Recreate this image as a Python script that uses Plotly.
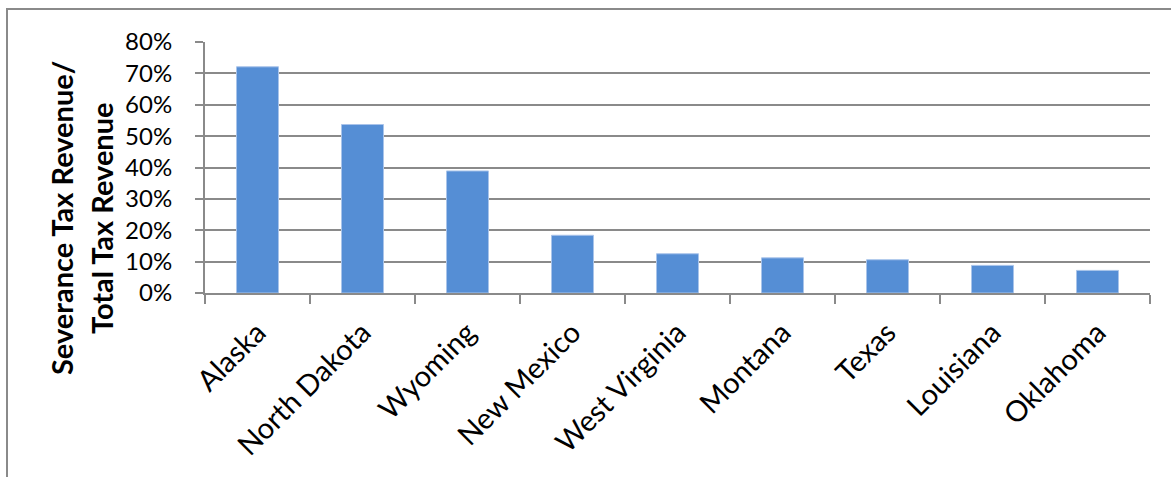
import plotly.graph_objects as go

# Severance tax revenue as a share of total state tax revenue
states = ["Alaska", "North Dakota", "Wyoming", "New Mexico", "West Virginia",
          "Montana", "Texas", "Louisiana", "Oklahoma"]
share = [0.721, 0.537, 0.389, 0.184, 0.125, 0.112, 0.106, 0.088, 0.072]

y_ticks = [0, 0.1, 0.2, 0.3, 0.4, 0.5, 0.6, 0.7, 0.8]
y_tick_text = ["0%", "10%", "20%", "30%", "40%", "50%", "60%", "70%", "80%"]

title_lines = ["Severance Tax Revenue/", "Total Tax Revenue"]

W, H = 1171, 477
L, R, T, B = 205, 21, 42, 184
pw, ph = W - L - R, H - T - B

GRID = "#8a8a8a"
FONT = "Lato, 'Open Sans', sans-serif"

fig = go.Figure(
    go.Bar(
        x=states,
        y=share,
        marker=dict(color="#558ed5", line=dict(color="#a9c4ea", width=1)),
        width=0.4,
    )
)

fig.update_layout(
    width=W,
    height=H,
    margin=dict(l=L, r=R, t=T, b=B, pad=0),
    paper_bgcolor="white",
    plot_bgcolor="white",
    showlegend=False,
    font=dict(family=FONT, size=24, color="black"),
)

fig.update_xaxes(
    type="category",
    tickangle=-45,
    tickson="boundaries",
    ticks="outside",
    ticklen=9,
    tickwidth=2,
    tickcolor=GRID,
    showgrid=False,
    showline=True,
    linecolor=GRID,
    linewidth=2,
    ticklabelstandoff=9,
    tickfont=dict(family=FONT, size=29),
)

fig.update_yaxes(
    range=[0, 0.8],
    tickvals=y_ticks,
    ticktext=y_tick_text,
    ticks="outside",
    ticklen=8,
    tickwidth=2,
    tickcolor=GRID,
    showgrid=True,
    gridcolor=GRID,
    gridwidth=2,
    showline=True,
    linecolor=GRID,
    linewidth=2,
    zeroline=False,
    ticklabelstandoff=18,
    tickfont=dict(family=FONT, size=24),
)

# Bold axis title, one rotated annotation per line
for line_text, cx in zip(title_lines, [61, 101]):
    fig.add_annotation(
        text=line_text,
        textangle=-90,
        xref="paper", yref="paper",
        x=(cx - L) / pw, y=(T + ph - 218) / ph,
        xanchor="center", yanchor="middle",
        showarrow=False,
        font=dict(family=FONT, size=29, color="black", weight="bold"),
    )

# Outer chart border
fig.add_shape(
    type="rect",
    xref="paper", yref="paper",
    x0=(7 - L) / pw, x1=(W + 20 - L) / pw,
    y0=-(B + 20) / ph, y1=(T + ph - 9) / ph,
    line=dict(color=GRID, width=2),
    fillcolor="rgba(0,0,0,0)",
    layer="below",
)

fig.write_html("out.html")
